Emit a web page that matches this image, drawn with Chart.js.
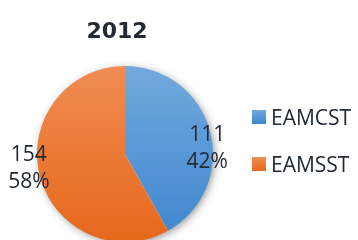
<!DOCTYPE html>
<html>
<head>
<meta charset="utf-8">
<script src="https://cdn.jsdelivr.net/npm/chart.js@4.4.1/dist/chart.umd.min.js"></script>
<style>
html,body{margin:0;padding:0;background:#fff;overflow:hidden}
#wrap{width:358px;height:240px;position:relative}
</style>
</head>
<body>
<div id="wrap"><canvas id="c" width="358" height="240"></canvas></div>
<script>
// ---- data ----
const chartTitle = '2012';
const categories = ['EAMCST', 'EAMSST'];
const values = [111, 154];

// ---- styles ----
const colorsTop = ['#71a9de', '#f08c53'];
const colorsBottom = ['#3f86cf', '#e6681b'];
const TEXT_COLOR = '#232a33';
const PIE_RADIUS = 88;

function gradientFor(chart, i, y0, y1) {
  const g = chart.ctx.createLinearGradient(0, y0, 0, y1);
  g.addColorStop(0, colorsTop[i]);
  g.addColorStop(1, colorsBottom[i]);
  return g;
}

const decor = {
  id: 'decor',
  beforeDatasetsDraw(chart) {
    const el = chart.getDatasetMeta(0).data[0];
    if (!el) return;
    const ctx = chart.ctx;
    ctx.save();
    ctx.shadowColor = 'rgba(0,0,0,0.45)';
    ctx.shadowBlur = 8;
    ctx.shadowOffsetX = 2;
    ctx.shadowOffsetY = 2;
    ctx.beginPath();
    ctx.arc(el.x, el.y, el.outerRadius - 1, 0, Math.PI * 2);
    ctx.fillStyle = '#ffffff';
    ctx.fill();
    ctx.restore();
  },
  afterDatasetsDraw(chart, args, opts) {
    const ctx = chart.ctx;
    const meta = chart.getDatasetMeta(0);
    const data = chart.data.datasets[0].data;
    const total = data.reduce((a, b) => a + b, 0);
    ctx.save();
    // data labels
    ctx.fillStyle = TEXT_COLOR;
    ctx.font = '21px "Open Sans"';
    ctx.textAlign = 'center';
    ctx.textBaseline = 'middle';
    meta.data.forEach((el, i) => {
      const mid = (el.startAngle + el.endAngle) / 2;
      const off = opts.labelOffsets[i];
      const ax = el.x + Math.cos(mid) * el.outerRadius + off[0];
      const ay = el.y + Math.sin(mid) * el.outerRadius + off[1];
      const pct = Math.round(data[i] / total * 100) + '%';
      ctx.fillText(String(data[i]), ax, ay - opts.lineHeight / 2);
      ctx.fillText(pct, ax, ay + opts.lineHeight / 2);
    });
    // title
    ctx.font = 'bold 22px "DejaVu Sans"';
    ctx.textBaseline = 'alphabetic';
    ctx.fillText(chartTitle, opts.titleX, opts.titleY);
    // legend
    ctx.textAlign = 'left';
    ctx.font = '21px "Open Sans"';
    chart.data.labels.forEach((lab, i) => {
      const by = opts.legendY + i * opts.legendStep;
      ctx.fillStyle = gradientFor(chart, i, by, by + 14);
      ctx.fillRect(opts.legendX, by, 14, 14);
      ctx.fillStyle = TEXT_COLOR;
      ctx.fillText(lab, opts.legendX + 19, by + 14.5);
    });
    ctx.restore();
  }
};

new Chart(document.getElementById('c'), {
  type: 'pie',
  data: {
    labels: categories,
    datasets: [{
      data: values,
      backgroundColor: (c) => {
        const a = c.chart.chartArea;
        if (!a) return colorsTop[c.dataIndex];
        const cy = (a.top + a.bottom) / 2;
        return gradientFor(c.chart, c.dataIndex, cy - PIE_RADIUS, cy + PIE_RADIUS);
      },
      borderWidth: 0,
      radius: PIE_RADIUS,
      clip: false
    }]
  },
  options: {
    responsive: false,
    animation: false,
    devicePixelRatio: 1,
    layout: { padding: { left: 37, right: 145, top: 68, bottom: 0 } },
    plugins: {
      legend: { display: false },
      title: { display: false },
      tooltip: { enabled: false },
      decor: {
        labelOffsets: [[-3, 17], [-11, -8]],
        lineHeight: 27,
        titleX: 117,
        titleY: 38,
        legendX: 252,
        legendY: 110,
        legendStep: 47
      }
    }
  },
  plugins: [decor]
});
</script>
</body>
</html>
